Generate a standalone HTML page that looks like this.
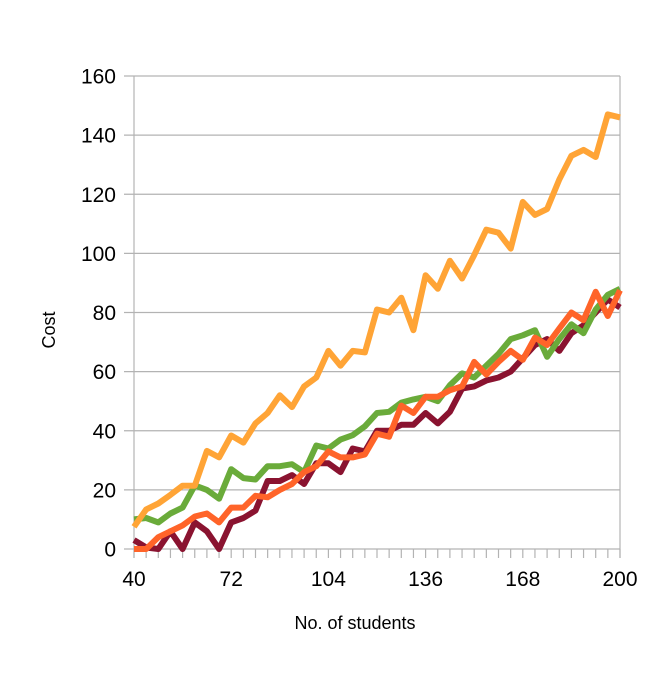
<!DOCTYPE html>
<html><head><meta charset="utf-8"><style>
html,body{margin:0;padding:0;background:#fff;}
svg text{font-family:"Liberation Sans",sans-serif;fill:#000;}
</style></head><body>
<svg id="chart" width="667" height="668" xmlns="http://www.w3.org/2000/svg">
<g id="grid"></g>
<g id="axes"></g>
<g id="series"></g>
<text x="55" y="330" font-size="18" text-anchor="middle" transform="rotate(-90 55 330)">Cost</text>
<text x="355" y="629" font-size="18" text-anchor="middle">No. of students</text>
</svg>
<script>
const xStart = 40, xStepVal = 4;
const yTicks = [0,20,40,60,80,100,120,140,160];
const xTickLabels = [40,72,104,136,168,200];
const seriesDarkRed = [3,0.5,0,6,0,9,6,0,9,10.5,13,23,23,25,22,29,29,26,34,33,40,40,42,42,46,42.5,46.4,54.3,55,57,58,60,64.5,69,71,67,73,75.7,80,84.4,81.7];
const seriesGreen = [10,10.5,9,12,14,21.5,20,17,27,24,23.5,28,28,28.7,26,35,34,37,38.5,41.5,46,46.4,49.5,50.6,51.5,50,55.4,59.4,58,62,66,71,72.3,74,65,71,76,73,81,86,88];
const seriesOrange = [7.5,13.4,15.4,18.3,21.4,21.4,33.2,31,38.4,36,42.5,46,52,48,55,58,67,62,67,66.5,81,80,85,74,92.6,88,97.5,91.5,99.4,108,107,101.6,117.4,113,115,125,133,135,132.6,147,146];
const seriesOrangeRed = [0,0,4,6,8,11,12,9,14,14,18,17.5,20,22,26,28,33,31,31,32,39,38,48.5,46,51.5,51.5,53.7,55,63.3,59,63.3,67,64,71.5,69,74.6,80,77.4,87,78.8,87.5];

const L=134,R=620,T=76,B=549;
const xMin=40,xMax=200,yMin=0,yMax=160;
const sx=v=>L+(v-xMin)/(xMax-xMin)*(R-L);
const sy=v=>B-(v-yMin)/(yMax-yMin)*(B-T);
const NS="http://www.w3.org/2000/svg";
function mk(tag,parent,attrs){const e=document.createElementNS(NS,tag);for(const k in attrs)e.setAttribute(k,attrs[k]);parent.appendChild(e);return e;}
const grid=document.getElementById('grid'),axes=document.getElementById('axes'),ser=document.getElementById('series');
yTicks.forEach(v=>{
  const g=mk('line',grid,{x1:124,x2:R,y1:sy(v),y2:sy(v),stroke:'#b3b3b3','stroke-width':1.2});
  
  
  const t=mk('text',axes,{x:116,y:sy(v)+7.5,'font-size':21,'text-anchor':'end'});
  t.textContent=v;
  
  
});
const vl=mk('line',axes,{x1:L,x2:L,y1:T,y2:B+9,stroke:'#b3b3b3','stroke-width':1.2});


const vr=mk('line',axes,{x1:R,x2:R,y1:T,y2:B+9,stroke:'#b3b3b3','stroke-width':1.2});


for(let v=xMin;v<=xMax;v+=xStepVal){
  const tk=mk('line',axes,{x1:sx(v),x2:sx(v),y1:B,y2:B+9,stroke:'#b3b3b3','stroke-width':1.2});
  
  
}
xTickLabels.forEach(v=>{
  const t=mk('text',axes,{x:sx(v),y:586,'font-size':21,'text-anchor':'middle'});
  t.textContent=v;
  
  
});
function line(data,color,name){
  const pts=data.map((v,i)=>sx(xStart+i*xStepVal).toFixed(1)+','+sy(v).toFixed(1)).join(' ');
  const p=mk('polyline',ser,{points:pts,fill:'none',stroke:color,'stroke-width':6,'stroke-linejoin':'round'});
  
  
}
line(seriesDarkRed,'#8a1330','series-dark-red');
line(seriesGreen,'#6aab3a','series-green');
line(seriesOrange,'#ffa436','series-orange');
line(seriesOrangeRed,'#ff6429','series-orange-red');
</script>
</body></html>
